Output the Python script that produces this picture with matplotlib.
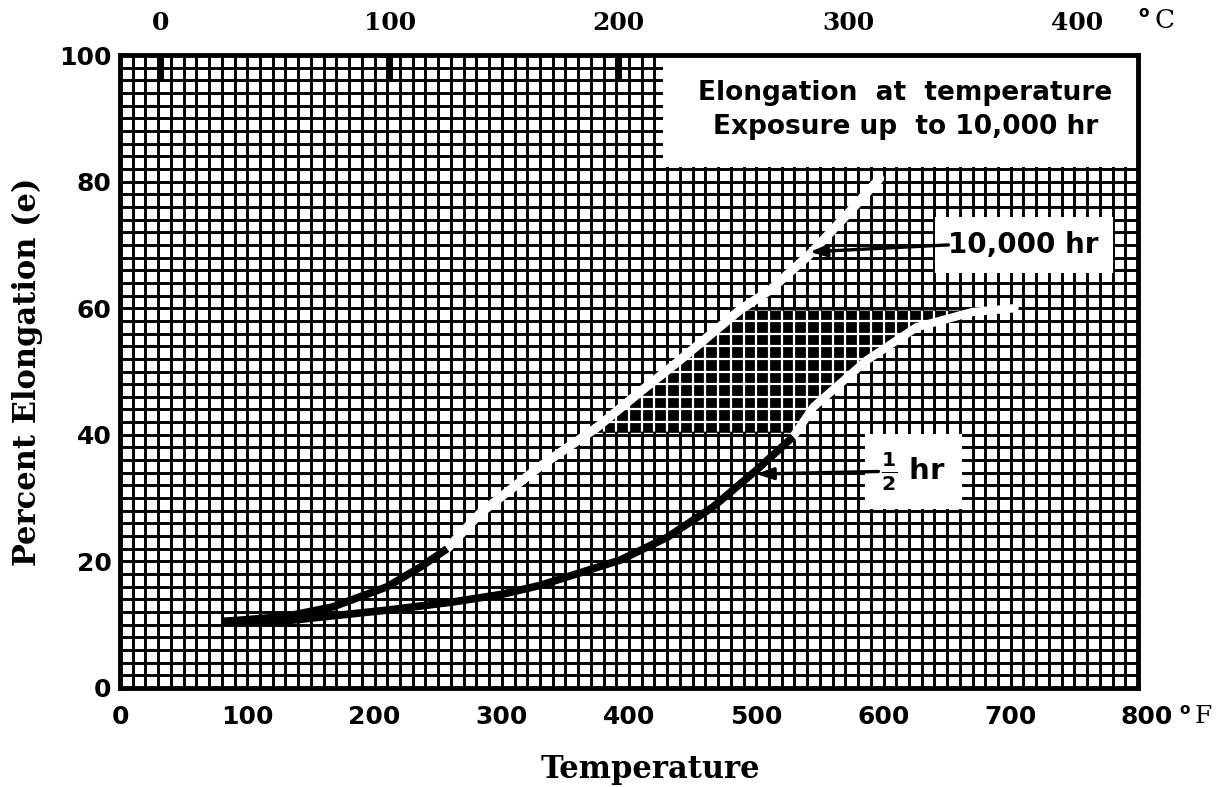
import numpy as np
import matplotlib
matplotlib.use("Agg")
import matplotlib.pyplot as plt
from matplotlib.patches import Rectangle

# --- data (deg F, percent elongation) ---
x_10k_black = [80, 100, 130, 167, 210, 236, 257]
y_10k_black = [10.5, 10.8, 11.3, 12.8, 16.0, 19.1, 22.0]
x_10k_white = [257, 283, 330, 375, 410, 440, 487, 511, 542, 570, 597]
y_10k_white = [22.0, 27.6, 35.0, 41.2, 47.0, 51.8, 59.7, 62.9, 68.5, 74.5, 80.5]

x_half_black = [80, 100, 130, 167, 210, 262, 300, 330, 393, 430, 466, 500, 529]
y_half_black = [10.5, 10.4, 10.6, 11.4, 12.3, 13.6, 14.8, 16.2, 20.2, 23.8, 28.6, 34.4, 39.7]
x_half_white = [529, 545, 587, 626, 670, 703]
y_half_white = [39.7, 44.4, 51.8, 57.0, 59.4, 60.0]

band_low, band_high = 40.5, 59.6   # shaded band between the curves

x_ticks = [0, 100, 200, 300, 400, 500, 600, 700, 800]
y_ticks = [0, 20, 40, 60, 80, 100]
c_ticks = [0, 100, 200, 300, 400]

fig = plt.figure(figsize=(12.3, 7.87), dpi=100)
ax = fig.add_axes([0.0976, 0.1258, 0.8276, 0.8043])
ax.set_xlim(0, 800)
ax.set_ylim(0, 100)

# graph paper grid
ax.set_xticks(x_ticks)
ax.set_yticks(y_ticks)
ax.set_xticks(np.arange(0, 801, 10), minor=True)
ax.set_yticks(np.arange(0, 101, 2), minor=True)
ax.set_axisbelow(True)
ax.grid(which="both", color="black", lw=2.1)
ax.tick_params(which="both", length=0)
ax.tick_params(axis="x", pad=12)
ax.tick_params(axis="y", pad=6)
for sp in ax.spines.values():
    sp.set_linewidth(3.5)
    sp.set_zorder(6)

lbl_font = dict(family="DejaVu Sans", weight="bold", size=18)
xl = [str(v) for v in x_ticks]
xl[-1] = ""
ax.set_xticklabels(xl, **lbl_font)
ax.set_yticklabels([str(v) for v in y_ticks], **lbl_font)
ax.text(1.009, -0.0265, "800", transform=ax.transAxes, ha="center", va="top", **lbl_font)
ax.text(1.041, -0.022, "o", transform=ax.transAxes, ha="left", va="top",
        family="DejaVu Sans", weight="bold", size=11)
ax.text(1.056, -0.0265, "F", transform=ax.transAxes, ha="left", va="top",
        family="DejaVu Serif", size=18)

# shaded band between the two curves, with white grid inside
yy = np.linspace(band_low, band_high, 60)
x_left = np.interp(yy, y_10k_white, x_10k_white)
x_right = np.interp(yy, y_half_white, x_half_white)
band = ax.fill_betweenx(yy, x_left, x_right, color="black", zorder=1)
clip = band.get_paths()[0]
for gx in np.arange(0, 801, 10):
    ln = ax.axvline(gx, color="white", lw=1.6, zorder=1.2)
    ln.set_clip_path(clip, ax.transData)
for gy in np.arange(0, 101, 2):
    ln = ax.axhline(gy, color="white", lw=1.6, zorder=1.2)
    ln.set_clip_path(clip, ax.transData)

# curves
ax.plot(x_10k_white, y_10k_white, color="white", lw=6.5, solid_capstyle="round", zorder=2)
ax.plot(x_half_white, y_half_white, color="white", lw=6.0, solid_capstyle="round", zorder=2)
ax.plot(x_10k_black, y_10k_black, color="black", lw=5.5, solid_capstyle="butt", zorder=3)
ax.plot(x_half_black, y_half_black, color="black", lw=5.5, solid_capstyle="butt", zorder=3)

# title box
ax.add_patch(Rectangle((0.533, 0.823), 0.467, 0.177, transform=ax.transAxes,
                       facecolor="white", edgecolor="none", zorder=4))
ax.text(617, 91.3, "Elongation  at  temperature\nExposure up  to 10,000 hr",
        ha="center", va="center", family="DejaVu Sans", weight="bold", size=19,
        linespacing=1.4, zorder=5)

# curve labels
ax.text(651, 70, "10,000 hr", ha="left", va="center", family="DejaVu Sans", weight="bold",
        size=20, zorder=5, bbox=dict(boxstyle="square,pad=0.5", fc="white", ec="none"))
ax.annotate("", xy=(542, 68.9), xytext=(651, 70), zorder=6,
            arrowprops=dict(arrowstyle="-|>,head_length=1.0,head_width=0.35",
                            color="black", lw=2.4, shrinkA=0, shrinkB=0))
ax.text(598, 34.2, r"$\mathbf{\frac{1}{2}}$ hr", ha="left", va="center", family="DejaVu Sans",
        weight="bold", size=21, zorder=5,
        bbox=dict(boxstyle="square,pad=0.55", fc="white", ec="none"))
ax.annotate("", xy=(500, 33.8), xytext=(596, 34.2), zorder=6,
            arrowprops=dict(arrowstyle="-|>,head_length=1.0,head_width=0.35",
                            color="black", lw=2.4, shrinkA=0, shrinkB=0))

# Celsius scale on top
sec = ax.secondary_xaxis("top", functions=(lambda f: (f - 32) / 1.8, lambda c: c * 1.8 + 32))
sec.set_xticks(c_ticks)
sec.set_xticklabels([str(v) for v in c_ticks], family="DejaVu Serif", weight="bold", size=18)
sec.tick_params(direction="in", length=19, width=3.6, pad=14.5)
sec.spines["top"].set_visible(False)
ax.text(1.0, 1.055, "o", transform=ax.transAxes, ha="left", va="bottom",
        family="DejaVu Sans", weight="bold", size=11)
ax.text(1.016, 1.035, "C", transform=ax.transAxes, ha="left", va="bottom",
        family="DejaVu Serif", size=19)

ax.set_xlabel("Temperature", family="DejaVu Serif", weight="bold", size=22)
ax.xaxis.set_label_coords(0.521, -0.105)
ax.set_ylabel("Percent Elongation (e)", family="DejaVu Serif", weight="bold", size=22, labelpad=12)

plt.savefig("out.png", dpi=100)
